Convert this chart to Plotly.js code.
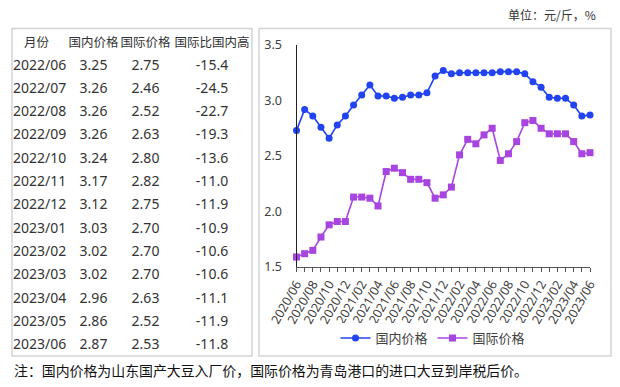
<!DOCTYPE html>
<html>
<head>
<meta charset="utf-8">
<script src="https://cdn.plot.ly/plotly-3.0.1.min.js"></script>
<style>body{margin:0;padding:0;background:#fff;}#chart{width:620px;height:387px;}</style>
</head>
<body>
<div id="chart"></div>
<script>
// ---- data ----
const months = ['2020/06','2020/07','2020/08','2020/09','2020/10','2020/11','2020/12',
  '2021/01','2021/02','2021/03','2021/04','2021/05','2021/06','2021/07','2021/08','2021/09','2021/10','2021/11','2021/12',
  '2022/01','2022/02','2022/03','2022/04','2022/05','2022/06','2022/07','2022/08','2022/09','2022/10','2022/11','2022/12',
  '2023/01','2023/02','2023/03','2023/04','2023/05','2023/06'];
const domestic = [2.73,2.92,2.86,2.76,2.66,2.78,2.86,2.96,3.05,3.14,3.04,3.04,3.02,3.03,3.05,3.05,3.07,3.22,3.27,3.24,3.25,3.25,3.25,3.25,
  3.25,3.26,3.26,3.26,3.24,3.17,3.12,3.03,3.02,3.02,2.96,2.86,2.87];
const international = [1.59,1.62,1.65,1.77,1.88,1.91,1.91,2.13,2.13,2.12,2.05,2.36,2.39,2.35,2.29,2.29,2.26,2.12,2.15,2.22,2.51,2.65,2.61,2.69,
  2.75,2.46,2.52,2.63,2.80,2.82,2.75,2.70,2.70,2.70,2.63,2.52,2.53];
const tableMonths = ['2022/06','2022/07','2022/08','2022/09','2022/10','2022/11','2022/12','2023/01','2023/02','2023/03','2023/04','2023/05','2023/06'];
const tableDomestic = ['3.25','3.26','3.26','3.26','3.24','3.17','3.12','3.03','3.02','3.02','2.96','2.86','2.87'];
const tableIntl = ['2.75','2.46','2.52','2.63','2.80','2.82','2.75','2.70','2.70','2.70','2.63','2.52','2.53'];
const tableDiff = ['-15.4','-24.5','-22.7','-19.3','-13.6','-11.0','-11.9','-10.9','-10.6','-10.6','-11.1','-11.9','-11.8'];
const tableHeader = ['月份','国内价格','国际价格','国际比国内高'];
const seriesNames = ['国内价格','国际价格'];
const tickText = months.map((m,i)=> i%2===0 ? m : '');

// ---- helpers (pixel -> paper) ----
const W=620,H=387;
const px = x=>x/W, py = y=>1-y/H;
const FONT = 'Noto Sans, Noto Sans CJK SC, sans-serif';
const CJK = 'Noto Sans CJK SC, sans-serif';

const traces = [
  {
    type:'table',
    domain:{x:[px(5),px(252)], y:[py(356),py(30)]},
    columnwidth:[63,51,53,80],
    header:{values:tableHeader.map(h=>[h]), align:['center','center','center','center'],
      height:21, fill:{color:'rgba(0,0,0,0)'}, line:{width:0,color:'rgba(0,0,0,0)'},
      font:{family:CJK,size:12.5,color:'#333'}},
    cells:{values:[tableMonths,tableDomestic,tableIntl,tableDiff], align:['left','center','center','center'],
      height:23.3, fill:{color:'rgba(0,0,0,0)'}, line:{width:0,color:'rgba(0,0,0,0)'},
      font:{family:FONT,size:14,color:'#333'}}
  },
  {
    type:'scatter', mode:'lines+markers', name:seriesNames[0], x:months, y:domestic,
    line:{color:'#2143f2',width:1.6}, marker:{symbol:'circle',size:7,color:'#2143f2'}, cliponaxis:false
  },
  {
    type:'scatter', mode:'lines+markers', name:seriesNames[1], x:months, y:international,
    line:{color:'#a845e0',width:1.6}, marker:{symbol:'square',size:7,color:'#a845e0'}, cliponaxis:false
  }
];

const layout = {
  width:W, height:H, margin:{l:0,r:0,t:0,b:0},
  paper_bgcolor:'#fff', plot_bgcolor:'rgba(0,0,0,0)',
  font:{family:FONT,color:'#404040'},
  showlegend:true,
  legend:{orientation:'h', x:px(433), xanchor:'center', y:py(338), yanchor:'middle',
    font:{family:CJK,size:13,color:'#404040'}, itemwidth:30, tracegroupgap:0},
  xaxis:{domain:[px(296.5),px(590)], type:'category', range:[0,36], showgrid:false, zeroline:false,
    showline:true, linecolor:'#555', linewidth:1,
    tickmode:'array', tickvals:months, ticktext:tickText, ticks:'outside', ticklen:4, tickcolor:'#555',
    tickangle:-60, tickfont:{family:FONT,size:12.5,color:'#404040'}},
  yaxis:{domain:[py(267),py(45)], range:[1.5,3.5], dtick:0.5, tickformat:'.1f', showgrid:false, zeroline:false,
    showline:true, linecolor:'#222', linewidth:1, ticks:'', ticklabelstandoff:11,
    tickfont:{family:FONT,size:12.5,color:'#404040'}},
  shapes:[
    {type:'rect', xref:'paper', yref:'paper', x0:px(12), x1:px(252), y0:py(356), y1:py(28.5), line:{color:'#d4d4d4',width:1.5}},
    {type:'rect', xref:'paper', yref:'paper', x0:px(259), x1:px(611), y0:py(356), y1:py(28.5), line:{color:'#d4d4d4',width:1.5}}
  ],
  annotations:[
    {xref:'paper', yref:'paper', x:px(598), y:py(15), xanchor:'right', yanchor:'middle', showarrow:false,
      text:'单位：元/斤，%', font:{family:CJK,size:12,color:'#333'}},
    {xref:'paper', yref:'paper', x:px(12), y:py(370), xanchor:'left', yanchor:'middle', showarrow:false,
      text:'注：国内价格为山东国产大豆入厂价，国际价格为青岛港口的进口大豆到岸税后价。', font:{family:CJK,size:13.9,color:'#111'}}
  ]
};

Plotly.newPlot('chart', traces, layout, {displayModeBar:false, staticPlot:true});
</script>
</body>
</html>
